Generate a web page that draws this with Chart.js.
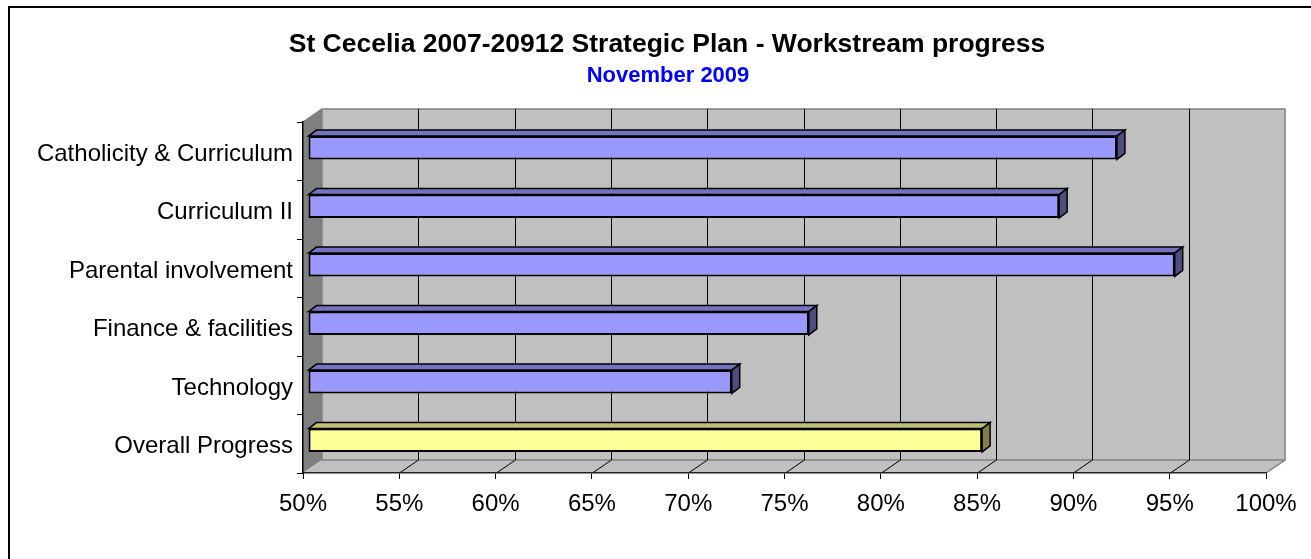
<!DOCTYPE html>
<html>
<head>
<meta charset="utf-8">
<script src="https://cdn.jsdelivr.net/npm/chart.js@4.4.1/dist/chart.umd.min.js"></script>
<style>
  body { margin: 0; background: #fff; }
  .wrap { width: 1311px; height: 559px; }
</style>
</head>
<body>
<div class="wrap"><canvas id="myChart"></canvas></div>
<script>
const categories = [
    'Catholicity & Curriculum',
    'Curriculum II',
    'Parental involvement',
    'Finance & facilities',
    'Technology',
    'Overall Progress',
];

const progress = [92, 89, 95, 76, 72, 85];

const axisMin = 50;
const axisMax = 100;
const axisStep = 5;

const titleText = 'St Cecelia 2007-20912 Strategic Plan - Workstream progress';
const subtitleText = 'November 2009';

const FONT = "'Liberation Sans', Arial, sans-serif";

// 3d look (pixels)
const DEPTH_X = 19, DEPTH_Y = 13;   // back wall offset
const BAR_X = 5, BAR_Y = 3.5;       // bar front face offset
const CAP_X = 8, CAP_Y = 6;         // bar depth

const faceColors = { normal: '#9999ff', total: '#ffff99' };
const topColors = { normal: '#7373bf', total: '#bfbf73' };
const sideColors = { normal: '#4d4d80', total: '#80804d' };

function kind(i) {
    return i === categories.length - 1 ? 'total' : 'normal';
}

const wallsPlugin = {
    id: 'walls',
    beforeDraw(chart) {
        const { ctx, chartArea: a, scales: { x } } = chart;
        ctx.save();
        // back wall
        ctx.fillStyle = '#c0c0c0';
        ctx.fillRect(a.left + DEPTH_X, a.top - DEPTH_Y, a.right - a.left, a.bottom - a.top);
        // left wall
        ctx.fillStyle = '#808080';
        ctx.beginPath();
        ctx.moveTo(a.left, a.top);
        ctx.lineTo(a.left + DEPTH_X, a.top - DEPTH_Y);
        ctx.lineTo(a.left + DEPTH_X, a.bottom - DEPTH_Y);
        ctx.lineTo(a.left, a.bottom);
        ctx.closePath();
        ctx.fill();
        // floor
        ctx.fillStyle = '#c0c0c0';
        ctx.beginPath();
        ctx.moveTo(a.left, a.bottom);
        ctx.lineTo(a.right, a.bottom);
        ctx.lineTo(a.right + DEPTH_X, a.bottom - DEPTH_Y);
        ctx.lineTo(a.left + DEPTH_X, a.bottom - DEPTH_Y);
        ctx.closePath();
        ctx.fill();

        // outlines
        ctx.strokeStyle = '#808080';
        ctx.lineWidth = 1.5;
        ctx.beginPath();
        ctx.moveTo(a.left, a.top);
        ctx.lineTo(a.left + DEPTH_X, a.top - DEPTH_Y);
        ctx.lineTo(a.right + DEPTH_X, a.top - DEPTH_Y);
        ctx.lineTo(a.right + DEPTH_X, a.bottom - DEPTH_Y);
        ctx.lineTo(a.right, a.bottom);
        ctx.stroke();
        ctx.beginPath();
        ctx.moveTo(a.left + DEPTH_X, a.top - DEPTH_Y);
        ctx.lineTo(a.left + DEPTH_X, a.bottom - DEPTH_Y);
        ctx.lineTo(a.right + DEPTH_X, a.bottom - DEPTH_Y);
        ctx.stroke();

        // gridlines on back wall + floor
        ctx.strokeStyle = '#000';
        ctx.lineWidth = 1;
        for (let v = axisMin + axisStep; v < axisMax; v += axisStep) {
            const px = Math.round(x.getPixelForValue(v)) + 0.5;
            ctx.beginPath();
            ctx.moveTo(px + DEPTH_X, a.top - DEPTH_Y);
            ctx.lineTo(px + DEPTH_X, a.bottom - DEPTH_Y);
            ctx.lineTo(px, a.bottom);
            ctx.stroke();
        }
        ctx.restore();
    },
    beforeDatasetsDraw(chart) {
        chart.ctx.save();
        chart.ctx.translate(BAR_X, -BAR_Y);
    },
    afterDatasetsDraw(chart) {
        const ctx = chart.ctx;
        const meta = chart.getDatasetMeta(0);
        ctx.lineWidth = 1.5;
        ctx.strokeStyle = '#000';
        ctx.lineJoin = 'miter';
        meta.data.forEach((bar, i) => {
            const p = bar.getProps(['x', 'y', 'base', 'height'], true);
            const top = p.y - p.height / 2;
            const bottom = p.y + p.height / 2;
            const k = kind(i);
            // top face
            ctx.fillStyle = topColors[k];
            ctx.beginPath();
            ctx.moveTo(p.base, top);
            ctx.lineTo(p.base + CAP_X, top - CAP_Y);
            ctx.lineTo(p.x + CAP_X, top - CAP_Y);
            ctx.lineTo(p.x, top);
            ctx.closePath();
            ctx.fill();
            ctx.stroke();
            // side face
            ctx.fillStyle = sideColors[k];
            ctx.beginPath();
            ctx.moveTo(p.x, top);
            ctx.lineTo(p.x + CAP_X, top - CAP_Y);
            ctx.lineTo(p.x + CAP_X, bottom - CAP_Y);
            ctx.lineTo(p.x, bottom);
            ctx.closePath();
            ctx.fill();
            ctx.stroke();
        });
        ctx.restore();
    },
    afterDraw(chart) {
        const ctx = chart.ctx;
        ctx.save();
        // titles (centred over the whole sheet, not the plot)
        ctx.textAlign = 'center';
        ctx.textBaseline = 'middle';
        ctx.fillStyle = '#000';
        ctx.font = 'bold 26.5px ' + FONT;
        ctx.fillText(titleText, 667, 45);
        ctx.fillStyle = '#0000ff';
        ctx.font = 'bold 22px ' + FONT;
        ctx.fillText(subtitleText, 668, 76);
        // outer frame
        ctx.strokeStyle = '#000';
        ctx.lineWidth = 2;
        ctx.strokeRect(9, 7, 2000, 2000);
        ctx.restore();
    }
};

const data = {
    labels: categories,
    datasets: [{
        label: 'Progress',
        data: progress,
        base: axisMin,
        backgroundColor: (c) => faceColors[kind(c.dataIndex)],
        borderColor: '#000',
        borderWidth: 2,
        borderSkipped: false,
        barPercentage: 0.4,
        categoryPercentage: 1,
        clip: false,
    }]
};

const options = {
    indexAxis: 'y',
    responsive: true,
    maintainAspectRatio: false,
    animation: false,
    layout: {
        padding: { left: 20, right: 45, top: 122, bottom: 0 }
    },
    plugins: {
        legend: { display: false },
        tooltip: { enabled: false },
        title: { display: false },
        subtitle: { display: false }
    },
    scales: {
        x: {
            min: axisMin,
            max: axisMax,
            afterFit: (scale) => { scale.height = 86; },
            ticks: {
                stepSize: axisStep,
                color: '#000',
                padding: 11,
                font: { family: FONT, size: 24 },
                callback: (v) => v + '%'
            },
            grid: {
                drawOnChartArea: false,
                tickLength: 6,
                color: '#000'
            },
            border: { display: true, color: '#222', width: 1.5 }
        },
        y: {
            afterFit: (scale) => { scale.width = 283; },
            ticks: {
                color: '#000',
                padding: 4,
                labelOffset: 3,
                font: { family: FONT, size: 24 }
            },
            grid: {
                drawOnChartArea: false,
                tickLength: 6,
                color: '#000'
            },
            border: { display: true, color: '#000', width: 1.5 }
        }
    }
};

const myChart = new Chart(
    document.getElementById('myChart'),
    { type: 'bar', data, options, plugins: [wallsPlugin] }
);
</script>
</body>
</html>
